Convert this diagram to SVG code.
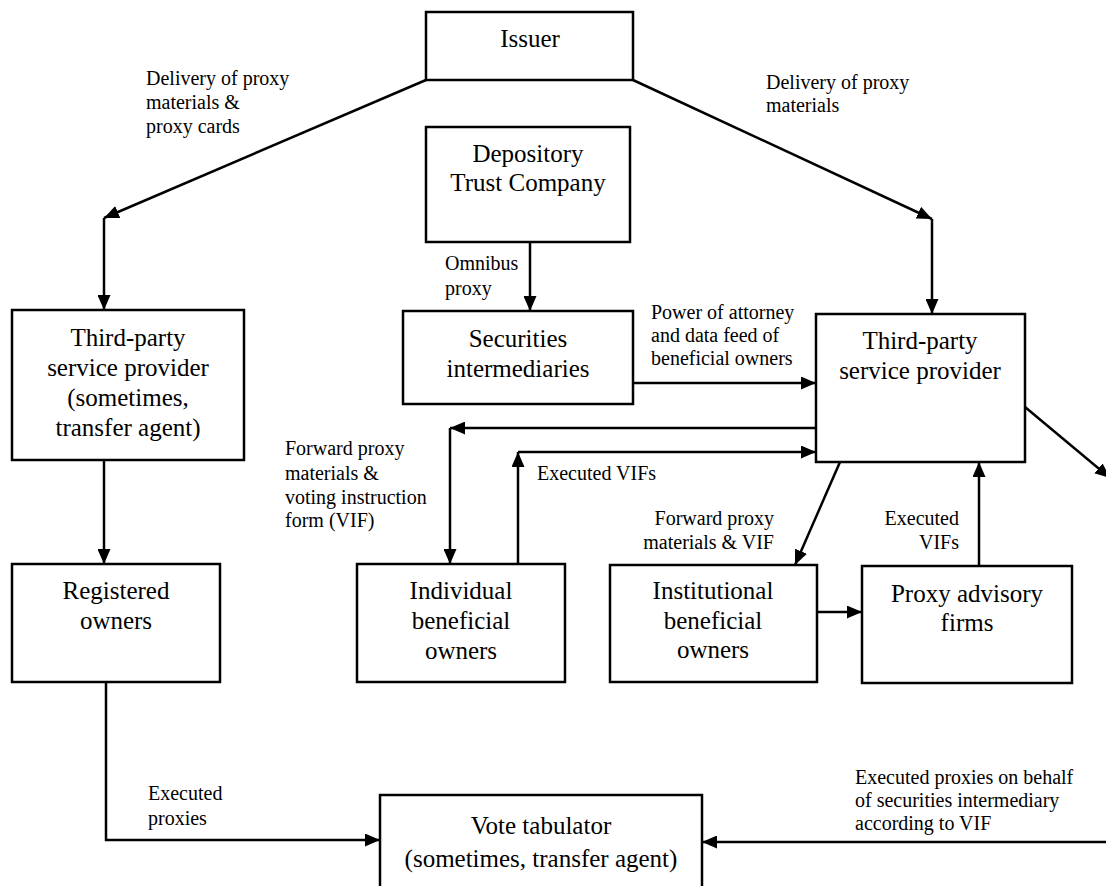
<svg xmlns="http://www.w3.org/2000/svg" width="1106" height="886" viewBox="0 0 1106 886">
<style>
.box{fill:#fff;stroke:#000;stroke-width:2.5}
.ln{fill:none;stroke:#000;stroke-width:2.5;marker-end:url(#ah)}
.nt{font-family:"Liberation Serif","Times New Roman",serif;font-size:25px;fill:#000;text-anchor:middle}
.lb{font-family:"Liberation Serif","Times New Roman",serif;font-size:20px;fill:#000}
.lr{text-anchor:end}
</style>
<defs>
<marker id="ah" markerUnits="userSpaceOnUse" markerWidth="15" markerHeight="13" refX="15" refY="6.5" orient="auto">
<path d="M0,0 L15,6.5 L0,13 z" fill="#000"/>
</marker>
</defs>
<rect width="1106" height="886" fill="#fff"/>

<g id="connectors">
<line class="ln" x1="426" y1="80" x2="104" y2="218"/>
<line class="ln" x1="104" y1="218" x2="104" y2="310"/>
<line class="ln" x1="633" y1="80" x2="932" y2="219"/>
<line class="ln" x1="932" y1="219" x2="932" y2="314"/>
<line class="ln" x1="530" y1="242" x2="530" y2="311"/>
<line class="ln" x1="633" y1="383" x2="816" y2="383"/>
<line class="ln" x1="104" y1="460" x2="104" y2="564"/>
<line class="ln" x1="816" y1="428" x2="450" y2="428"/>
<line class="ln" x1="450" y1="428" x2="450" y2="564"/>
<line class="ln" x1="518" y1="564" x2="518" y2="452"/>
<line class="ln" x1="518" y1="452" x2="816" y2="452"/>
<line class="ln" x1="840" y1="462" x2="795" y2="565"/>
<line class="ln" x1="817" y1="612" x2="862" y2="612"/>
<line class="ln" x1="979" y1="566" x2="979" y2="462"/>
<line class="ln" x1="1025" y1="407" x2="1110" y2="478"/>
<polyline class="ln" points="106,682 106,840 380,840"/>
<line class="ln" x1="1110" y1="842" x2="702" y2="842"/>
</g>

<g id="labels">
<text class="lb" x="146" y="85">Delivery of proxy</text>
<text class="lb" x="146" y="109">materials &amp;</text>
<text class="lb" x="146" y="133">proxy cards</text>
<text class="lb" x="766" y="89">Delivery of proxy</text>
<text class="lb" x="766" y="112">materials</text>
<text class="lb" x="445" y="270">Omnibus</text>
<text class="lb" x="445" y="295">proxy</text>
<text class="lb" x="651" y="319">Power of attorney</text>
<text class="lb" x="651" y="342">and data feed of</text>
<text class="lb" x="651" y="365">beneficial owners</text>
<text class="lb" x="285" y="455">Forward proxy</text>
<text class="lb" x="285" y="480">materials &amp;</text>
<text class="lb" x="285" y="504">voting instruction</text>
<text class="lb" x="285" y="527">form (VIF)</text>
<text class="lb" x="537" y="480">Executed VIFs</text>
<text class="lb lr" x="774" y="525">Forward proxy</text>
<text class="lb lr" x="774" y="549">materials &amp; VIF</text>
<text class="lb lr" x="959" y="525">Executed</text>
<text class="lb lr" x="959" y="549">VIFs</text>
<text class="lb" x="148" y="800">Executed</text>
<text class="lb" x="148" y="825">proxies</text>
<text class="lb" x="855" y="784">Executed proxies on behalf</text>
<text class="lb" x="855" y="807">of securities intermediary</text>
<text class="lb" x="855" y="830">according to VIF</text>
</g>

<g id="issuer">
<rect class="box" x="426" y="12" width="207" height="68"/>
<text class="nt" x="530" y="47">Issuer</text>
</g>
<g id="dtc">
<rect class="box" x="426" y="127" width="204" height="115"/>
<text class="nt" x="528" y="162">Depository</text>
<text class="nt" x="528" y="191">Trust Company</text>
</g>
<g id="securities">
<rect class="box" x="403" y="311" width="230" height="93"/>
<text class="nt" x="518" y="347">Securities</text>
<text class="nt" x="518" y="377">intermediaries</text>
</g>
<g id="tpsp-left">
<rect class="box" x="12" y="310" width="232" height="150"/>
<text class="nt" x="128" y="346">Third-party</text>
<text class="nt" x="128" y="376">service provider</text>
<text class="nt" x="128" y="406">(sometimes,</text>
<text class="nt" x="128" y="436">transfer agent)</text>
</g>
<g id="tpsp-right">
<rect class="box" x="816" y="314" width="209" height="148"/>
<text class="nt" x="920" y="349">Third-party</text>
<text class="nt" x="920" y="379">service provider</text>
</g>
<g id="registered">
<rect class="box" x="12" y="564" width="208" height="118"/>
<text class="nt" x="116" y="599">Registered</text>
<text class="nt" x="116" y="629">owners</text>
</g>
<g id="individual">
<rect class="box" x="357" y="564" width="208" height="118"/>
<text class="nt" x="461" y="599">Individual</text>
<text class="nt" x="461" y="629">beneficial</text>
<text class="nt" x="461" y="659">owners</text>
</g>
<g id="institutional">
<rect class="box" x="610" y="565" width="207" height="117"/>
<text class="nt" x="713" y="599">Institutional</text>
<text class="nt" x="713" y="629">beneficial</text>
<text class="nt" x="713" y="658">owners</text>
</g>
<g id="proxy-advisory">
<rect class="box" x="862" y="566" width="210" height="117"/>
<text class="nt" x="967" y="602">Proxy advisory</text>
<text class="nt" x="967" y="631">firms</text>
</g>
<g id="vote-tabulator">
<rect class="box" x="380" y="795" width="322" height="100"/>
<text class="nt" x="541" y="834">Vote tabulator</text>
<text class="nt" x="541" y="867">(sometimes, transfer agent)</text>
</g>
</svg>
